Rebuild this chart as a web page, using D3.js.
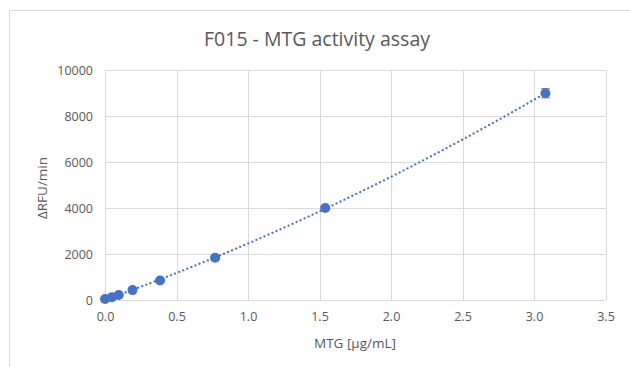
<!DOCTYPE html>
<html>
<head>
<meta charset="utf-8">
<script src="https://cdnjs.cloudflare.com/ajax/libs/d3/7.8.5/d3.min.js"></script>
<style>
  body { margin: 0; background: #fff; }
  text { font-family: "Open Sans", "Liberation Sans", sans-serif; fill: #595959; }
</style>
</head>
<body>
<svg id="chart" width="630" height="367"></svg>
<script>
// MTG dilution series (ug/mL) and measured rates
var mtg = [0, 0.048, 0.096, 0.1925, 0.385, 0.77, 1.54, 3.08];
var rfu = [40, 120, 220, 430, 850, 1840, 4000, 8990];
var err = [20, 20, 25, 30, 40, 50, 60, 200];

var xTicks = [0, 0.5, 1, 1.5, 2, 2.5, 3, 3.5];
var yTicks = [0, 2000, 4000, 6000, 8000, 10000];

var svg = d3.select('#chart');
var plotLeft = 105, plotRight = 605.5, plotTop = 70, plotBottom = 300;

var x = d3.scaleLinear().domain([0, 3.5]).range([plotLeft, plotRight]);
var y = d3.scaleLinear().domain([0, 10000]).range([plotBottom, plotTop]);

// chart frame (only left & top edges visible in the reference)
svg.append('path')
  .attr('d', 'M9.5,367 L9.5,10.5 L630,10.5')
  .attr('fill', 'none')
  .attr('stroke', '#d9d9d9')
  .attr('stroke-width', 1);

// gridlines
svg.append('g')
  .selectAll('line')
  .data(yTicks)
  .enter().append('line')
  .attr('x1', plotLeft).attr('x2', plotRight)
  .attr('y1', function(d) { return Math.round(y(d)) + 0.5; })
  .attr('y2', function(d) { return Math.round(y(d)) + 0.5; })
  .attr('stroke', '#d9d9d9');

svg.append('g')
  .selectAll('line')
  .data(xTicks)
  .enter().append('line')
  .attr('y1', plotTop).attr('y2', plotBottom)
  .attr('x1', function(d) { return Math.round(x(d)) + 0.5; })
  .attr('x2', function(d) { return Math.round(x(d)) + 0.5; })
  .attr('stroke', '#d9d9d9');

// axes (labels only, lines hidden)
var xAxis = svg.append('g')
  .attr('transform', 'translate(0,' + plotBottom + ')')
  .call(d3.axisBottom(x).tickValues(xTicks).tickFormat(d3.format('.1f')).tickSize(0).tickPadding(12));
var yAxis = svg.append('g')
  .attr('transform', 'translate(' + plotLeft + ',0)')
  .call(d3.axisLeft(y).tickValues(yTicks).tickFormat(d3.format('d')).tickSize(0).tickPadding(12));
[xAxis, yAxis].forEach(function(a) {
  a.select('.domain').remove();
  a.selectAll('text').style('font-size', '12.5px').attr('fill', '#595959');
});

// quadratic least-squares trendline
function polyfit2(xs, ys) {
  var s = [0, 0, 0, 0, 0], t = [0, 0, 0];
  for (var i = 0; i < xs.length; i++) {
    var p = 1;
    for (var k = 0; k < 5; k++) { s[k] += p; if (k < 3) t[k] += p * ys[i]; p *= xs[i]; }
  }
  var A = [[s[0], s[1], s[2], t[0]], [s[1], s[2], s[3], t[1]], [s[2], s[3], s[4], t[2]]];
  for (var c = 0; c < 3; c++) {
    for (var r = c + 1; r < 3; r++) {
      var f = A[r][c] / A[c][c];
      for (var j = c; j < 4; j++) A[r][j] -= f * A[c][j];
    }
  }
  var b = [0, 0, 0];
  for (var r2 = 2; r2 >= 0; r2--) {
    var v = A[r2][3];
    for (var j2 = r2 + 1; j2 < 3; j2++) v -= A[r2][j2] * b[j2];
    b[r2] = v / A[r2][r2];
  }
  return b;
}
var coef = polyfit2(mtg, rfu);
var trend = d3.range(0, 101).map(function(i) {
  var xv = d3.max(mtg) * i / 100;
  return [xv, coef[0] + coef[1] * xv + coef[2] * xv * xv];
});
svg.append('path')
  .datum(trend)
  .attr('fill', 'none')
  .attr('stroke', '#4472C4')
  .attr('stroke-width', 2.2)
  .attr('stroke-dasharray', '0.1 4.3')
  .attr('stroke-linecap', 'round')
  .attr('d', d3.line().x(function(d) { return x(d[0]); }).y(function(d) { return y(d[1]); }));

// error bars
var eb = svg.append('g').selectAll('g').data(mtg).enter().append('g');
eb.append('line')
  .attr('x1', function(d) { return x(d); }).attr('x2', function(d) { return x(d); })
  .attr('y1', function(d, i) { return y(rfu[i] - err[i]); })
  .attr('y2', function(d, i) { return y(rfu[i] + err[i]); })
  .attr('stroke', '#7f7f7f').attr('stroke-width', 1);
eb.selectAll('line.cap')
  .data(function(d, i) { return [[d, rfu[i] - err[i]], [d, rfu[i] + err[i]]]; })
  .enter().append('line')
  .attr('class', 'cap')
  .attr('x1', function(d) { return x(d[0]) - 4.5; }).attr('x2', function(d) { return x(d[0]) + 4.5; })
  .attr('y1', function(d) { return y(d[1]); }).attr('y2', function(d) { return y(d[1]); })
  .attr('stroke', '#7f7f7f').attr('stroke-width', 1);

// markers
svg.append('g').selectAll('circle')
  .data(mtg)
  .enter().append('circle')
  .attr('cx', function(d) { return x(d); })
  .attr('cy', function(d, i) { return y(rfu[i]); })
  .attr('r', 5)
  .attr('fill', '#4472C4');

// titles
svg.append('text')
  .attr('x', 317).attr('y', 46)
  .attr('text-anchor', 'middle')
  .style('font-size', '19.5px')
  .text('F015 - MTG activity assay');

svg.append('text')
  .attr('x', 355).attr('y', 348)
  .attr('text-anchor', 'middle')
  .style('font-size', '13.5px')
  .text('MTG [μg/mL]');

svg.append('text')
  .attr('transform', 'translate(47,188) rotate(-90)')
  .attr('text-anchor', 'middle')
  .style('font-size', '13.5px')
  .text('ΔRFU/min');
</script>
</body>
</html>
